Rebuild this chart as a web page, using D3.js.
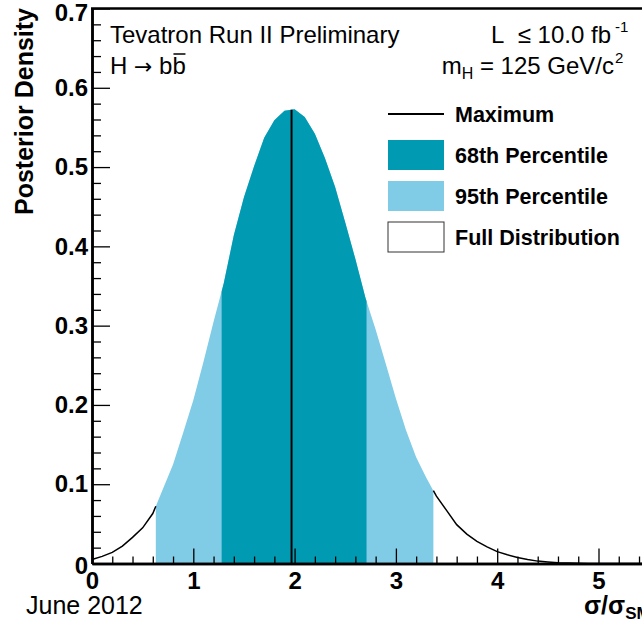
<!DOCTYPE html>
<html>
<head>
<meta charset="utf-8">
<script src="https://cdn.jsdelivr.net/npm/d3@7/dist/d3.min.js"></script>
<style>
  body { margin: 0; background: #fff; }
  text { font-family: "Liberation Sans", Arial, Helvetica, sans-serif; }
</style>
</head>
<body>
<div id="chart"></div>
<script>
// posterior density, sigma/sigma_SM in steps of 0.1
var xs = [0.0,0.1,0.2,0.3,0.4,0.5,0.6,0.7,0.8,0.9,1.0,1.1,1.2,1.3,1.4,1.5,1.6,1.7,1.8,1.9,
          2.0,2.1,2.2,2.3,2.4,2.5,2.6,2.7,2.8,2.9,3.0,3.1,3.2,3.3,3.4,3.5,3.6,3.7,3.8,3.9,
          4.0,4.1,4.2,4.3,4.4,4.5,4.6,4.7,4.8,4.9,5.0,5.2,5.4,5.6,5.8,6.0];
var density = [0.005,0.009,0.014,0.022,0.033,0.045,0.063,0.094,0.125,0.165,0.206,0.254,0.305,0.353,0.414,0.462,0.501,0.537,0.559,0.571,
               0.573,0.563,0.542,0.511,0.475,0.430,0.384,0.335,0.295,0.252,0.208,0.168,0.134,0.108,0.085,0.067,0.049,0.037,0.028,0.021,
               0.015,0.011,0.0075,0.005,0.003,0.002,0.001,0.0005,0.0002,0.0001,0,0,0,0,0,0];

var maximum = 1.97;
var band68 = [1.28, 2.71];
var band95 = [0.63, 3.37];

var xTicks = [0,1,2,3,4,5];
var yTicks = [0,0.1,0.2,0.3,0.4,0.5,0.6,0.7];

var legendItems = [
  {label: "Maximum", type: "line"},
  {label: "68th Percentile", type: "c68"},
  {label: "95th Percentile", type: "c95"},
  {label: "Full Distribution", type: "full"}
];

var col68 = "#009ab2", col95 = "#80cbe5";

var W = 642, H = 626;
var svg = d3.select("#chart").append("svg").attr("width", W).attr("height", H);
svg.append("rect").attr("width", W).attr("height", H).attr("fill", "#fff");

var x = d3.scaleLinear().domain([0, 6]).range([92, 92 + 101.3*6]);
var y = d3.scaleLinear().domain([0, 0.7]).range([563.5, 8.5]);

var data = xs.map(function(v, i){ return {x: v, y: density[i]}; });

var interp = function(v){
  var i = d3.bisector(function(d){ return d.x; }).left(data, v);
  if (i <= 0) return data[0].y;
  var a = data[i-1], b = data[i];
  return a.y + (b.y - a.y) * (v - a.x) / (b.x - a.x);
};
var slice = function(lo, hi){
  var pts = [{x: lo, y: interp(lo)}];
  data.forEach(function(d){ if (d.x > lo && d.x < hi) pts.push(d); });
  pts.push({x: hi, y: interp(hi)});
  return pts;
};

var area = d3.area().x(function(d){ return x(d.x); }).y0(y(0)).y1(function(d){ return y(d.y); });
var line = d3.line().x(function(d){ return x(d.x); }).y(function(d){ return y(d.y); });

// bands
svg.append("path").attr("d", area(slice(band95[0], band95[1]))).attr("fill", col95);
svg.append("path").attr("d", area(slice(band68[0], band68[1]))).attr("fill", col68);

// tails of the full distribution
svg.append("path").attr("d", line(slice(0, band95[0]))).attr("fill", "none").attr("stroke", "#000").attr("stroke-width", 1.5);
svg.append("path").attr("d", line(slice(band95[1], 6))).attr("fill", "none").attr("stroke", "#000").attr("stroke-width", 1.5);

// maximum
svg.append("line").attr("x1", x(maximum)).attr("x2", x(maximum)).attr("y1", y(0)).attr("y2", y(interp(maximum)))
  .attr("stroke", "#000").attr("stroke-width", 2);

// axes
var yMinor = d3.range(0, 0.7001, 0.02).filter(function(v){ return Math.abs(v*10 - Math.round(v*10)) > 1e-6; });
var xMinor = d3.range(0, 6.001, 0.2).filter(function(v){ return Math.abs(v - Math.round(v)) > 1e-6; });

svg.append("g").attr("transform", "translate(92,0)")
  .call(d3.axisLeft(y).tickValues(yMinor).tickSizeInner(-9).tickSizeOuter(0).tickFormat(""));
var ya = svg.append("g").attr("transform", "translate(92,0)")
  .call(d3.axisLeft(y).tickValues(yTicks).tickSizeInner(-18).tickSizeOuter(0).tickPadding(4)
    .tickFormat(function(d){ return d === 0 ? "0" : d3.format(".1f")(d); }));

svg.append("g").attr("transform", "translate(0,563.5)")
  .call(d3.axisBottom(x).tickValues(xMinor).tickSizeInner(-7).tickSizeOuter(0).tickFormat(""));
var xa = svg.append("g").attr("transform", "translate(0,563.5)")
  .call(d3.axisBottom(x).tickValues(xTicks).tickSizeInner(-15).tickSizeOuter(0).tickPadding(8).tickFormat(d3.format("d")));

svg.selectAll(".domain").attr("stroke", "#000").attr("stroke-width", 2.5);
svg.selectAll(".tick line").attr("stroke", "#000").attr("stroke-width", 1.3);
ya.selectAll("text").attr("font-size", 24).attr("font-weight", "bold").attr("fill", "#000")
  .attr("font-family", "Liberation Sans, Arial, sans-serif");
xa.selectAll("text").attr("font-size", 24).attr("font-weight", "bold").attr("fill", "#000")
  .attr("font-family", "Liberation Sans, Arial, sans-serif");
ya.selectAll(".tick").filter(function(d){ return d === 0; }).select("text").attr("dy", "0.42em");
ya.selectAll(".tick").filter(function(d){ return d === 0.7; }).select("text").attr("dy", "0.5em");

// top frame
svg.append("line").attr("x1", 91).attr("x2", W).attr("y1", 8.5).attr("y2", 8.5).attr("stroke", "#000").attr("stroke-width", 2.5);

// axis titles
svg.append("text").attr("transform", "translate(33,8) rotate(-90)").attr("text-anchor", "end")
  .attr("font-size", 25).attr("font-weight", "bold").text("Posterior Density");
svg.append("text").attr("x", 584).attr("y", 614).attr("font-size", 25).attr("font-weight", "bold")
  .text("σ/σ").append("tspan").attr("font-size", 17).attr("dy", 5).text("SM");
svg.append("text").attr("x", 26).attr("y", 614).attr("font-size", 25).text("June 2012");

// annotations
svg.append("text").attr("x", 110).attr("y", 43).attr("font-size", 24).text("Tevatron Run II Preliminary");
var h = svg.append("text").attr("x", 110).attr("y", 74).attr("font-size", 24);
h.append("tspan").text("H ");
h.append("tspan").attr("font-family", "DejaVu Sans").attr("font-size", 22).text("→");
h.append("tspan").text(" b");
var hw = h.node().getComputedTextLength();
svg.append("text").attr("x", 110 + hw).attr("y", 74).attr("font-size", 24).text("b");
svg.append("line").attr("x1", 110 + hw + 1).attr("x2", 110 + hw + 13).attr("y1", 54).attr("y2", 54)
  .attr("stroke", "#000").attr("stroke-width", 1.5);

svg.append("text").attr("x", 611).attr("y", 43).attr("font-size", 24).attr("text-anchor", "end").text("L\u00a0\u00a0\u2264 10.0 fb");
svg.append("text").attr("x", 615).attr("y", 32).attr("font-size", 15).text("-1");
var mh = svg.append("text").attr("x", 614).attr("y", 74).attr("font-size", 24).attr("text-anchor", "end");
mh.append("tspan").text("m");
mh.append("tspan").attr("font-size", 16).attr("dy", 5).text("H");
mh.append("tspan").attr("dy", -5).text(" = 125 GeV/c");
svg.append("text").attr("x", 615).attr("y", 63).attr("font-size", 15).text("2");

// legend
var leg = svg.append("g").selectAll("g").data(legendItems).enter().append("g")
  .attr("transform", function(d, i){ return "translate(388," + (114 + i*41) + ")"; });
leg.filter(function(d){ return d.type === "line"; }).append("line")
  .attr("x1", 0).attr("x2", 56).attr("y1", 0).attr("y2", 0).attr("stroke", "#000").attr("stroke-width", 2);
leg.filter(function(d){ return d.type !== "line"; }).append("rect")
  .attr("x", 0).attr("y", -15).attr("width", 56).attr("height", 30)
  .attr("fill", function(d){ return d.type === "c68" ? col68 : d.type === "c95" ? col95 : "#fff"; })
  .attr("stroke", function(d){ return d.type === "full" ? "#333" : "none"; }).attr("stroke-width", 1);
leg.append("text").attr("x", 67).attr("y", 8).attr("font-size", 21.5).attr("font-weight", "bold").text(function(d){ return d.label; });
</script>
</body>
</html>
